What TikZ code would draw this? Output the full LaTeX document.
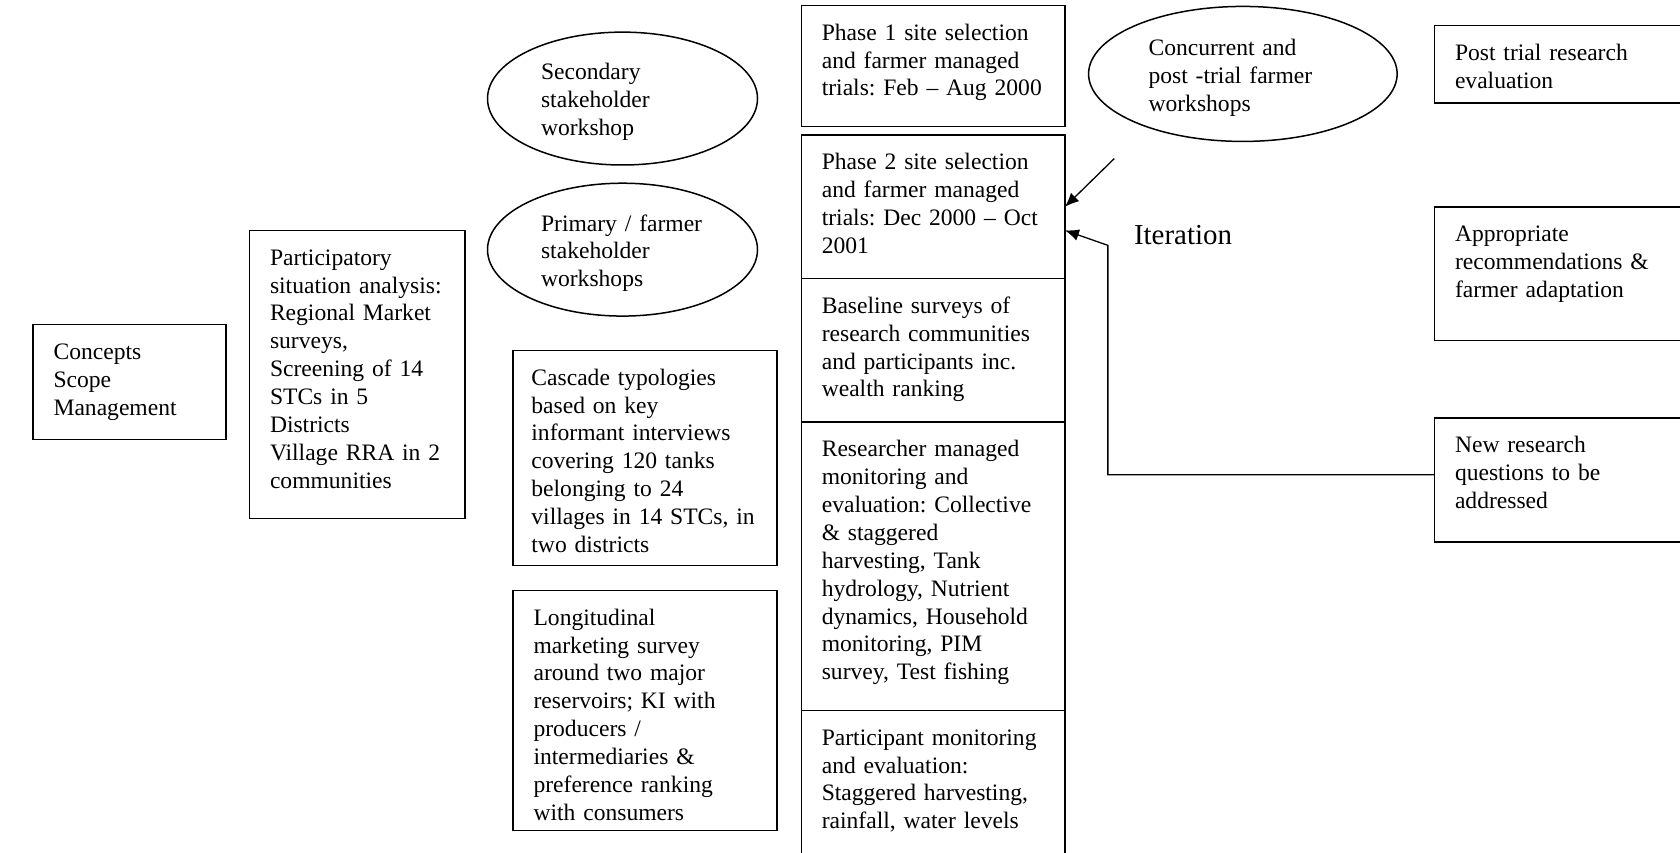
\documentclass[tikz,border=0pt]{standalone}
\usepackage{fontspec}
\setmainfont{Liberation Serif}
\usetikzlibrary{arrows.meta,positioning,shapes.geometric}

\begin{document}
\begin{tikzpicture}[
  x=0.5pt, y=-0.5pt,
  node distance=0pt,
  font=\fontsize{11}{13}\selectfont\frenchspacing,
  box/.style={draw, line width=0.7pt, anchor=north west, outer sep=0pt, align=left,
              inner xsep=9.5pt, inner ysep=6pt, text height=10.25pt, text width=104pt},
  wsbox/.style={draw, line width=0.7pt, ellipse, inner sep=0pt, align=left, text height=11pt,
                minimum width=126pt, minimum height=62pt, text width=76pt},
  arr/.style={-{Latex[length=6.5pt,width=5.5pt]}, line width=0.6pt}
]
\clip (0,0) rectangle (1568,796);

\node[box, text width=71pt, text depth=31.25pt] (concepts) at (31,303)
  {Concepts\\Scope\\Management};
\node[box, text width=81.5pt, text depth=112.25pt] (psa) at (233,215)
  {Participatory\\situation analysis:\\Regional Market\\surveys,\\Screening of 14\\STCs in 5\\Districts\\Village RRA in 2\\communities};

\node[wsbox] (secws) at (581,92) {Secondary\\stakeholder\\workshop};
\node[wsbox] (primws) at (581,233) {Primary / farmer\\stakeholder\\workshops};
\node[box, inner xsep=8.5pt, text width=106pt, text depth=78.25pt] (cascade) at (479,327)
  {Cascade typologies\\based on key\\informant interviews\\covering 120 tanks\\belonging to 24\\villages in 14 STCs, in\\two districts};
\node[box, text depth=89.75pt] (longit) at (479,551)
  {Longitudinal\\marketing survey\\around two major\\reservoirs; KI with\\producers /\\intermediaries \&\\preference ranking\\with consumers};

% trial column
\node[box, text depth=34.25pt] (phase1) at (748,5)
  {Phase 1 site selection\\and farmer managed\\trials: Feb -- Aug 2000};
\node[box, text depth=44.75pt] (phase2) at (748,126)
  {Phase 2 site selection\\and farmer managed\\trials: Dec 2000 -- Oct\\2001};
\node[box, text depth=44.75pt, below=of phase2] (baseline)
  {Baseline surveys of\\research communities\\and participants inc.\\wealth ranking};
\node[box, text depth=112.25pt, below=of baseline] (resman)
  {Researcher managed\\monitoring and\\evaluation: Collective\\\& staggered\\harvesting, Tank\\hydrology, Nutrient\\dynamics, Household\\monitoring, PIM\\survey, Test fishing};
\node[box, text depth=47.75pt, below=of resman] (partmon)
  {Participant monitoring\\and evaluation:\\Staggered harvesting,\\rainfall, water levels};

\node[wsbox, minimum width=144pt, minimum height=63pt, text width=88pt] (concws) at (1160,69)
  {Concurrent and\\post -trial farmer\\workshops};
\node[font=\fontsize{13.5}{15}\selectfont, anchor=west, inner sep=0pt] (iter) at (1058,219) {Iteration};

% outcomes
\node[box, text width=111.5pt, text depth=13.75pt] (posttrial) at (1339,24)
  {Post trial research\\evaluation};
\node[box, text width=111.5pt, text depth=40.25pt] (approp) at (1339,193)
  {Appropriate\\recommendations \&\\farmer adaptation};
\node[box, text width=111.5pt, text depth=35.75pt] (newq) at (1339,390)
  {New research\\questions to be\\addressed};

\coordinate (wsend) at (1040,148);
\coordinate (bend) at (1034,229);
\draw[arr] (wsend) -- (phase2.east);
\draw[arr] ([yshift=2.5pt]newq.west) -| (bend) -- ([yshift=-11pt]phase2.east);
\end{tikzpicture}
\end{document}
